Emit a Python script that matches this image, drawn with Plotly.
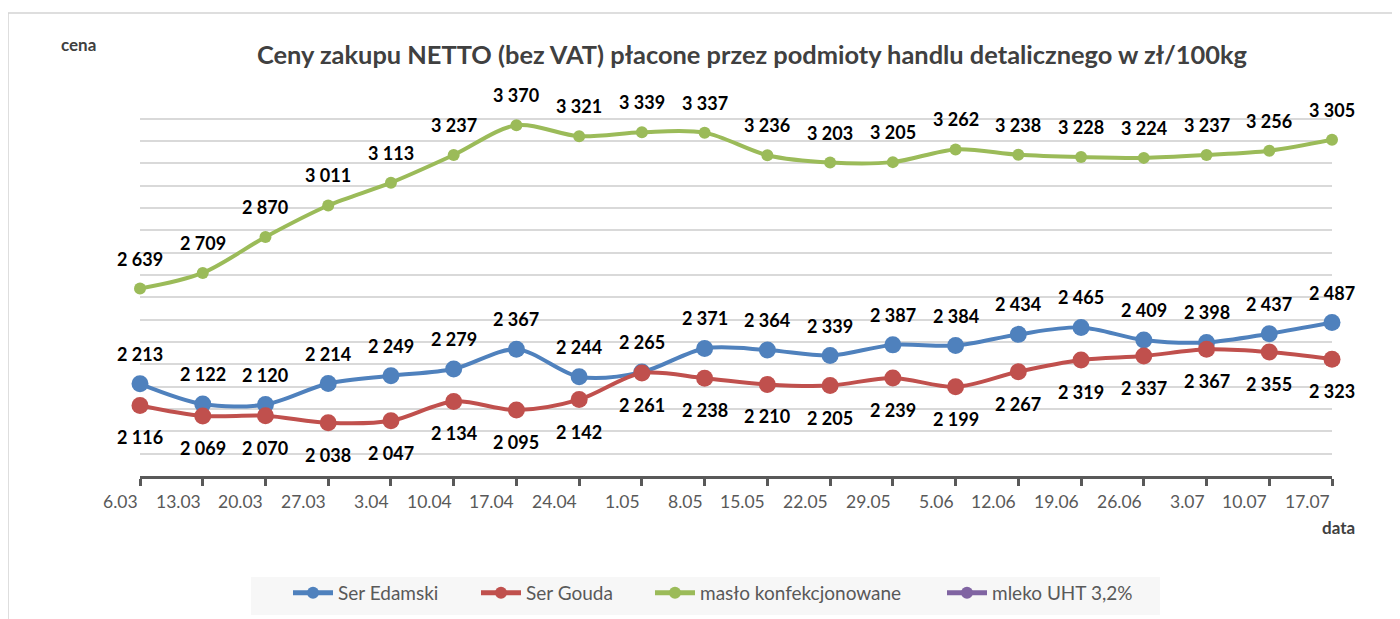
import plotly.graph_objects as go

categories = ["6.03", "13.03", "20.03", "27.03", "3.04", "10.04", "17.04", "24.04", "1.05", "8.05",
              "15.05", "22.05", "29.05", "5.06", "12.06", "19.06", "26.06", "3.07", "10.07", "17.07"]
ser_edamski = [2213, 2122, 2120, 2214, 2249, 2279, 2367, 2244, 2265, 2371,
               2364, 2339, 2387, 2384, 2434, 2465, 2409, 2398, 2437, 2487]
ser_gouda = [2116, 2069, 2070, 2038, 2047, 2134, 2095, 2142, 2261, 2238,
             2210, 2205, 2239, 2199, 2267, 2319, 2337, 2367, 2355, 2323]
maslo = [2639, 2709, 2870, 3011, 3113, 3237, 3370, 3321, 3339, 3337,
         3236, 3203, 3205, 3262, 3238, 3228, 3224, 3237, 3256, 3305]
mleko = [None] * len(categories)

title_text = "Ceny zakupu NETTO (bez VAT) płacone przez podmioty handlu detalicznego w zł/100kg"

# page offset (browser body margin)
OFF = 8
W, H = 1400 - OFF, 619 - OFF
L, R, T, B = 140 - OFF, 68, 96 - OFF, 619 - 476
PW, PH = W - L - R, H - T - B


def px_x(sx):
    return (sx - OFF - L) / PW


def px_y(sy):
    return (H - B - (sy - OFF)) / PH


def cont_y(sy):
    return 1 - (sy - OFF) / H


FONT = "Lato"
fig = go.Figure()

series = [
    ("Ser Edamski", ser_edamski, "#4f81bd", 17, 30, 338),
    ("Ser Gouda", ser_gouda, "#c0504d", 17, -32, 526),
    ("masło konfekcjonowane", maslo, "#9bbb59", 12, 30, 700),
    ("mleko UHT 3,2%", mleko, "#8064a2", 12, 30, 992),
]

idx = list(range(len(categories)))
annotations = []
legends = {}
for k, (name, vals, color, msize, shift, text_x) in enumerate(series):
    lname = "legend" if k == 0 else f"legend{k + 1}"
    fig.add_trace(go.Scatter(
        x=categories, y=vals, name=name, mode="lines+markers",
        line=dict(color=color, width=4, shape="spline", smoothing=0.9),
        marker=dict(color=color, size=msize),
        cliponaxis=False, legend=lname,
    ))
    legends[lname] = dict(
        orientation="h", x=px_x(text_x - 50), xanchor="left",
        y=cont_y(593), yref="container", yanchor="middle",
        bgcolor="rgba(0,0,0,0)", font=dict(family=FONT, size=19, color="#595959"),
        itemsizing="constant", itemwidth=40,
    )
    for i, v in zip(idx, vals):
        if v is None:
            continue
        annotations.append(dict(
            x=i, y=v, xref="x", yref="y", text=f"{v:,}".replace(",", " "),
            showarrow=False, yshift=shift, xanchor="center", yanchor="middle",
            font=dict(family=FONT, size=18, color="#000000", weight="bold"),
        ))

for i, c in zip(idx, categories):
    annotations.append(dict(
        x=i, y=px_y(501), xref="x", yref="paper", text=c, showarrow=False,
        xanchor="right", yanchor="middle",
        font=dict(family=FONT, size=17.5, color="#595959"),
    ))

annotations.append(dict(x=px_x(78), y=px_y(44), xref="paper", yref="paper", text="cena",
                        showarrow=False, xanchor="center", yanchor="middle",
                        font=dict(family=FONT, size=17, color="#404040", weight="bold")))
annotations.append(dict(x=px_x(1338), y=px_y(527), xref="paper", yref="paper", text="data",
                        showarrow=False, xanchor="center", yanchor="middle",
                        font=dict(family=FONT, size=17, color="#404040", weight="bold")))

shapes = [
    dict(type="rect", xref="paper", yref="paper", x0=px_x(8), y0=px_y(13), x1=px_x(1420), y1=px_y(640),
         line=dict(color="#d4d4d4", width=1.5), fillcolor="rgba(0,0,0,0)", layer="below"),
    dict(type="rect", xref="paper", yref="paper", x0=px_x(251), y0=px_y(577), x1=px_x(1160), y1=px_y(615),
         line=dict(width=0), fillcolor="#f7f7f7", layer="below"),
]

fig.update_layout(
    width=W, height=H,
    margin=dict(l=L, r=R, t=T, b=B, autoexpand=False),
    paper_bgcolor="white", plot_bgcolor="white",
    separators=", ",
    title=dict(text=title_text, x=(752 - OFF) / W, xref="container", xanchor="center",
               y=1 - (55 - OFF) / H, yref="container", yanchor="middle",
               font=dict(family=FONT, size=25.4, color="#404040", weight="bold")),
    xaxis=dict(type="category", range=[0, len(categories) - 1], showgrid=False,
               showline=True, linecolor="#595959", linewidth=3,
               ticks="outside", ticklen=7, tickwidth=3, tickcolor="#595959",
               showticklabels=False, zeroline=False),
    yaxis=dict(range=[1800, 3501], dtick=100, tick0=0, showgrid=True, gridcolor="#d9d9d9",
               gridwidth=1.5, showticklabels=False, zeroline=False, showline=False, ticks=""),
    annotations=annotations,
    shapes=shapes,
    showlegend=True,
    **legends,
)

fig.write_html("out.html")
